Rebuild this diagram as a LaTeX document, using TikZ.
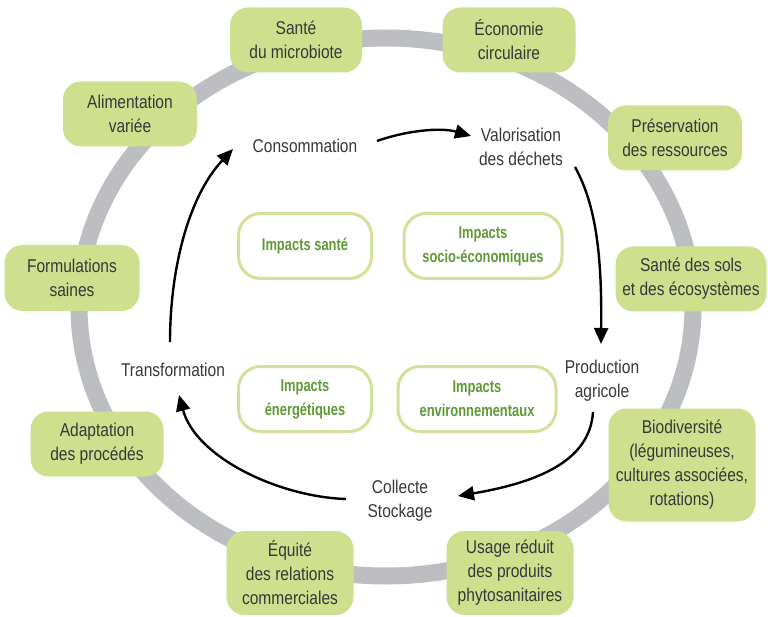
\documentclass[tikz,border=0pt]{standalone}
\usepackage{fontspec}
\setmainfont{Liberation Sans}[FakeStretch=0.84]
\newfontfamily\impactfont{Liberation Sans}[FakeStretch=0.76]
\usetikzlibrary{arrows.meta}
\definecolor{ringgray}{HTML}{BDBEC2}
\definecolor{boxgreen}{HTML}{CEDF8E}
\definecolor{impactline}{HTML}{CFE29A}
\definecolor{impacttext}{HTML}{5E9A35}
\definecolor{txtgray}{HTML}{383838}
\begin{document}
\begin{tikzpicture}[x=1pt,y=-1pt,
  obox/.style={fill=boxgreen, rounded corners=18pt, align=center, inner sep=0pt,
    font=\fontsize{18.5}{24}\selectfont, text=txtgray},
  ibox/.style={draw=impactline, line width=3pt, fill=white, rounded corners=22pt,
    align=center, inner sep=0pt, minimum height=65pt,
    font=\impactfont\bfseries\fontsize{17}{24}\selectfont, text=impacttext},
  lbl/.style={align=center, inner sep=0pt, font=\fontsize{18.5}{24}\selectfont, text=txtgray},
  cyc/.style={line width=2.4pt, black, -{Triangle[length=16pt,width=14pt]}}]
\useasboundingbox (0,0) rectangle (768,617);
\fill[white] (0,0) rectangle (768,617);
% ring
\draw[ringgray, line width=17pt] (386,307) ellipse [x radius=307, y radius=269];
% outer boxes
\node[obox, minimum width=132pt, minimum height=65pt] (micro) at (296,40) {Santé\\du microbiote};
\node[obox, minimum width=133pt, minimum height=65pt] (eco) at (509,40) {Économie\\circulaire};
\node[obox, minimum width=134pt, minimum height=65pt] (alim) at (130,114) {Alimentation\\variée};
\node[obox, minimum width=134pt, minimum height=65pt] (pres) at (675,138) {Préservation\\des ressources};
\node[obox, minimum width=135pt, minimum height=66pt] (form) at (72,278) {Formulations\\saines};
\node[obox, minimum width=151pt, minimum height=65pt] (sols) at (691,279) {Santé des sols\\et des écosystèmes};
\node[obox, minimum width=133pt, minimum height=65pt] (adapt) at (97,444) {Adaptation\\des procédés};
\node[obox, minimum width=147pt, minimum height=113pt] (bio) at (682,465) {Biodiversité\\(légumineuses,\\cultures associées,\\rotations)};
\node[obox, minimum width=127pt, minimum height=84pt] (equi) at (290,573) {Équité\\des relations\\commerciales};
\node[obox, minimum width=127pt, minimum height=84pt] (usage) at (510,573) {Usage réduit\\des produits\\phytosanitaires};
% impact boxes
\node[ibox, minimum width=133pt] (isante) at (305,246) {Impacts santé};
\node[ibox, minimum width=158pt] (isocio) at (483,246) {Impacts\\socio-économiques};
\node[ibox, minimum width=133pt] (ienerg) at (305,399) {Impacts\\énergétiques};
\node[ibox, minimum width=158pt] (ienv) at (477,399) {Impacts\\environnementaux};
% cycle labels
\node[lbl] (conso) at (305,146) {Consommation};
\node[lbl] (valo) at (521,147) {Valorisation\\des déchets};
\node[lbl] (prod) at (602,381) {Production\\agricole};
\node[lbl] (coll) at (400,501) {Collecte\\Stockage};
\node[lbl] (trans) at (173,370) {Transformation};
% arrow endpoints
\coordinate (a1s) at (377,141); \coordinate (a1e) at (471,136);
\coordinate (a2s) at (575,167); \coordinate (a2e) at (601,344);
\coordinate (a3s) at (593,412); \coordinate (a3e) at (458,496);
\coordinate (a4s) at (346,499); \coordinate (a4e) at (179,395);
\coordinate (a5s) at (170,342); \coordinate (a5e) at (233,149);
\draw[cyc] (a1s) .. controls (405,131) and (440,127) .. (a1e);
\draw[cyc] (a2s) .. controls (596,205) and (602,255) .. (a2e);
\draw[cyc] (a3s) .. controls (590,460) and (540,482) .. (a3e);
\draw[cyc] (a4s) .. controls (280,497) and (196,458) .. (a4e);
\draw[cyc] (a5s) .. controls (170,270) and (188,197) .. (a5e);
\end{tikzpicture}
\end{document}
